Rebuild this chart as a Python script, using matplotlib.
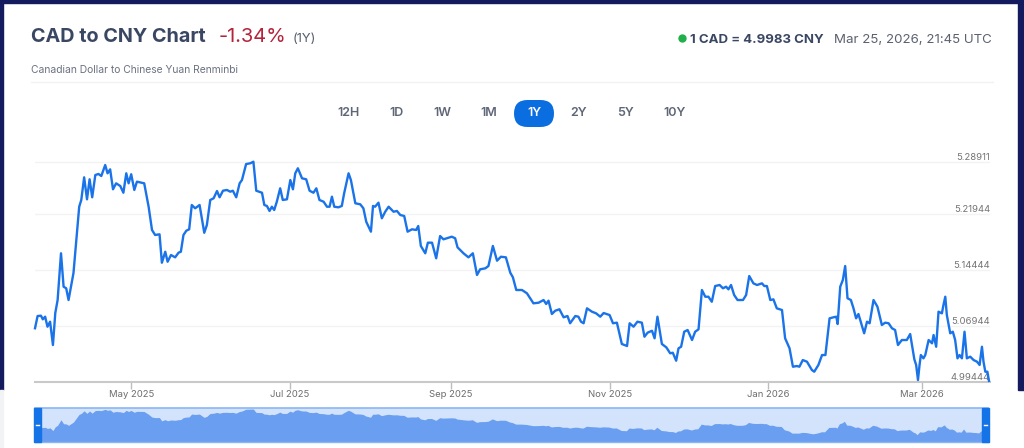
import matplotlib
matplotlib.use("Agg")
import matplotlib.pyplot as plt
import matplotlib.dates as mdates
from matplotlib.patches import Rectangle, FancyBboxPatch
from matplotlib.transforms import blended_transform_factory
import pandas as pd

# ---------------- data ----------------
start_date = "2025-03-25"
day_offsets = [
    0, 1.0, 2.3, 3.0, 3.9, 4.8, 5.8, 6.9, 7.8, 8.7, 10.0, 11.0, 12.0, 12.9, 14.8, 17.0, 17.8, 18.9, 20.0, 21.0,
    22.0, 23.2, 24.4, 25.5, 27.0, 27.9, 28.9, 30.0, 31.2, 32.8, 34.0, 35.1, 36.0, 37.0, 38.2, 39.2, 42.0, 43.7, 45.0, 46.2,
    47.9, 48.8, 50.1, 51.0, 52.3, 53.9, 55.2, 56.1, 57.1, 58.2, 59.3, 60.3, 61.6, 63.3, 65.1, 66.1, 67.4, 68.7, 70.0, 71.0,
    72.3, 73.8, 75.1, 76.1, 77.4, 78.7, 79.6, 81.2, 82.8, 84.0, 85.1, 87.3, 88.2, 89.2, 90.2, 91.1, 92.0, 93.0, 94.3, 95.3,
    96.9, 98.2, 99.2, 100.1, 101.1, 102.7, 104.3, 105.6, 107.1, 108.2, 109.4, 111.0, 112.3, 113.3, 114.2, 115.1, 116.7, 118.0, 118.9, 120.6,
    121.5, 123.2, 125.1, 126.3, 127.4, 129.2, 130.0, 130.8, 132.1, 133.4, 134.7, 136.0, 137.9, 139.2, 140.5, 142.0, 143.3, 145.0, 146.6, 147.4,
    148.4, 150.1, 151.1, 152.7, 154.3, 155.8, 157.1, 158.4, 160.3, 161.6, 162.5, 164.8, 166.7, 168.4, 170.0, 171.2, 173.2, 174.4, 176.1, 177.7,
    179.2, 181.1, 182.8, 183.8, 185.1, 187.3, 189.2, 191.7, 193.7, 195.6, 196.6, 197.5, 198.8, 200.1, 201.7, 203.3, 204.8, 205.8, 207.8, 209.0,
    210.0, 211.0, 212.3, 214.2, 215.8, 217.4, 218.7, 221.0, 222.3, 223.8, 225.7, 227.7, 228.7, 230.2, 231.7, 233.4, 234.4, 235.6, 237.3, 238.3,
    239.4, 241.1, 242.8, 244.3, 245.3, 246.6, 247.5, 248.5, 249.7, 251.0, 252.7, 253.9, 255.2, 256.5, 257.8, 259.0, 260.3, 261.6, 263.3, 264.6,
    265.8, 266.7, 267.7, 268.9, 270.2, 272.3, 273.5, 274.7, 276.3, 277.7, 279.6, 280.5, 281.5, 282.8, 284.0, 285.3, 287.3, 288.5, 290.2, 291.5,
    293.0, 294.0, 295.3, 296.9, 298.8, 299.7, 301.3, 302.7, 304.0, 305.6, 307.1, 308.2, 308.7, 309.7, 310.7, 311.6, 312.5, 313.8, 314.8, 315.8,
    316.7, 317.7, 318.9, 320.0, 321.0, 322.5, 324.0, 325.7, 327.0, 328.3, 329.6, 330.8, 331.9, 333.4, 335.3, 336.6, 338.2, 338.9, 339.6, 340.2,
    340.7, 341.7, 342.4, 343.7, 345.0, 345.6, 346.6, 347.5, 348.8, 349.4, 350.1, 350.7, 352.0, 353.0, 353.9, 354.8, 355.6, 356.5, 357.5, 358.4,
    359.7, 361.0, 362.3, 363.3, 364.2, 364.8, 365.5, 366.3, 366.9,
]
cad_cny = [
    5.0663, 5.0827, 5.0831, 5.0783, 5.0818, 5.0684, 5.0751, 5.0439, 5.0867, 5.1041, 5.1666, 5.1219, 5.1198, 5.1041, 5.1402, 5.2289, 5.2379, 5.2682, 5.2388, 5.2656,
    5.2415, 5.2713, 5.2727, 5.2700, 5.2847, 5.2736, 5.2789, 5.2522, 5.2602, 5.2566, 5.2476, 5.2736, 5.2602, 5.2723, 5.2513, 5.2624, 5.2602, 5.2289, 5.1978, 5.1911,
    5.1920, 5.1540, 5.1687, 5.1553, 5.1643, 5.1612, 5.1674, 5.1687, 5.1911, 5.1968, 5.1987, 5.2312, 5.2268, 5.2312, 5.1941, 5.2044, 5.2379, 5.2402, 5.2499, 5.2415,
    5.2503, 5.2513, 5.2490, 5.2503, 5.2415, 5.2602, 5.2646, 5.2860, 5.2870, 5.2891, 5.2503, 5.2476, 5.2312, 5.2299, 5.2232, 5.2289, 5.2245, 5.2356, 5.2535, 5.2379,
    5.2388, 5.2646, 5.2522, 5.2736, 5.2803, 5.2669, 5.2656, 5.2503, 5.2476, 5.2535, 5.2379, 5.2356, 5.2289, 5.2289, 5.2423, 5.2289, 5.2281, 5.2299, 5.2468, 5.2736,
    5.2646, 5.2335, 5.2321, 5.2268, 5.2088, 5.1955, 5.2299, 5.2289, 5.2343, 5.2134, 5.2222, 5.2289, 5.2222, 5.2232, 5.2178, 5.2165, 5.1955, 5.1987, 5.1978, 5.2031,
    5.1764, 5.1666, 5.1808, 5.1808, 5.1599, 5.1897, 5.1853, 5.1867, 5.1888, 5.1867, 5.1746, 5.1666, 5.1612, 5.1666, 5.1376, 5.1452, 5.1465, 5.1496, 5.1764, 5.1567,
    5.1620, 5.1612, 5.1406, 5.1345, 5.1175, 5.1175, 5.1131, 5.0997, 5.1005, 5.1041, 5.0988, 5.1032, 5.0854, 5.0898, 5.0917, 5.0810, 5.0827, 5.0730, 5.0827, 5.0818,
    5.0751, 5.0730, 5.0930, 5.0885, 5.0863, 5.0818, 5.0867, 5.0840, 5.0730, 5.0738, 5.0453, 5.0426, 5.0730, 5.0684, 5.0751, 5.0738, 5.0550, 5.0604, 5.0630, 5.0529,
    5.0818, 5.0453, 5.0408, 5.0328, 5.0336, 5.0229, 5.0395, 5.0416, 5.0617, 5.0640, 5.0506, 5.0617, 5.0649, 5.1175, 5.1085, 5.1085, 5.1018, 5.1228, 5.1242, 5.1198,
    5.1219, 5.1184, 5.1242, 5.1108, 5.1041, 5.1041, 5.1108, 5.1362, 5.1264, 5.1242, 5.1264, 5.1228, 5.1228, 5.1041, 5.1050, 5.0930, 5.0907, 5.0529, 5.0395, 5.0149,
    5.0158, 5.0149, 5.0238, 5.0216, 5.0105, 5.0082, 5.0172, 5.0305, 5.0305, 5.0796, 5.0810, 5.0818, 5.0720, 5.1219, 5.1309, 5.1496, 5.1064, 5.1041, 5.0930, 5.0796,
    5.0854, 5.0738, 5.0596, 5.0751, 5.0730, 5.1041, 5.0952, 5.0707, 5.0738, 5.0730, 5.0663, 5.0640, 5.0439, 5.0506, 5.0506, 5.0586, 5.0248, 5.0172, 4.9971, 5.0172,
    5.0305, 5.0261, 5.0305, 5.0506, 5.0462, 5.0573, 5.0416, 5.0885, 5.0863, 5.0974, 5.1085, 5.0840, 5.0596, 5.0617, 5.0506, 5.0261, 5.0305, 5.0261, 5.0617, 5.0261,
    5.0283, 5.0238, 5.0216, 5.0172, 5.0416, 5.0216, 5.0082, 5.0082, 4.9960,
]
y_ticks = [4.99444, 5.06944, 5.14444, 5.21944, 5.28911]
y_tick_labels = ["4.99444", "5.06944", "5.14444", "5.21944", "5.28911"]
x_tick_dates = ["2025-05-01", "2025-07-01", "2025-09-01", "2025-11-01", "2026-01-01", "2026-03-01"]
ranges = ["12H", "1D", "1W", "1M", "1Y", "2Y", "5Y", "10Y"]
active_range = "1Y"
title = "CAD to CNY Chart"
change_txt = "-1.34%"
period_txt = "(1Y)"
subtitle = "Canadian Dollar to Chinese Yuan Renminbi"
rate_txt = "1 CAD = 4.9983 CNY"
time_txt = "Mar 25, 2026, 21:45 UTC"

# ---------------- figure ----------------
W, H = 1024, 448
plt.rcParams["font.family"] = ["Inter", "DejaVu Sans"]
fig = plt.figure(figsize=(W / 100, H / 100), dpi=100)
fig.patch.set_facecolor("white")


def fx(x):
    return x / W


def fy(y):
    return 1 - y / H


def pt(px):
    return px * 72 / 100


# frame
fig.add_artist(Rectangle((0, fy(390)), fx(3), 390 / H, transform=fig.transFigure, color="#141a5e", zorder=0))
fig.add_artist(Rectangle((fx(1018), fy(390)), fx(6), 390 / H, transform=fig.transFigure, color="#141a5e", zorder=0))
fig.add_artist(Rectangle((0, fy(3)), 1, 3 / H, transform=fig.transFigure, color="#141a5e", zorder=0))
fig.add_artist(Rectangle((0, 0), fx(3), 58 / H, transform=fig.transFigure, color="#f2f3f5", zorder=0))

# header
fig.text(fx(31), fy(42), title, fontsize=pt(19.8), fontweight="bold", color="#3a4763", va="baseline")
fig.text(fx(219), fy(42), change_txt, fontsize=pt(20), color="#b3243a", va="baseline")
fig.text(fx(293), fy(42), period_txt, fontsize=pt(13), color="#555d6e", va="baseline")
fig.text(fx(31), fy(73), subtitle, fontsize=pt(10.3), color="#6b7280", va="baseline")
fig.add_artist(plt.Line2D([fx(31), fx(993)], [fy(82), fy(82)], transform=fig.transFigure, color="#f1f2f4", lw=1))

fig.add_artist(plt.Line2D([fx(682)], [fy(38)], transform=fig.transFigure, marker="o", ms=5, color="#1fb04a", lw=0))
fig.text(fx(690), fy(43), rate_txt, fontsize=pt(13.2), fontweight="bold", color="#3a4763", va="baseline")
fig.text(fx(992), fy(43), time_txt, fontsize=pt(13.3), color="#5b6170", va="baseline", ha="right")

# range buttons
btn_x = [349, 396, 442, 489, 534, 579, 625, 675]
for lab, bx in zip(ranges, btn_x):
    if lab == active_range:
        fig.add_artist(FancyBboxPatch(((bx - 20) / 100, (H - 127) / 100), 0.40, 0.27,
                                      boxstyle="round,pad=0,rounding_size=0.135",
                                      transform=fig.dpi_scale_trans, facecolor="#0a6de0", edgecolor="none"))
        fig.text(fx(bx), fy(113), lab, fontsize=pt(12.5), color="white", ha="center", va="center", fontweight="semibold")
    else:
        fig.text(fx(bx), fy(113), lab, fontsize=pt(12.5), color="#5f6677", ha="center", va="center", fontweight="semibold")

# main plot
dates = pd.Timestamp(start_date) + pd.to_timedelta(day_offsets, unit="D")
x_start = pd.Timestamp(start_date)
x_end = pd.Timestamp(start_date) + pd.Timedelta(days=367.3)
y_lo = 4.99444
y_hi = 4.99444 + 232 / 747.6

ax = fig.add_axes([fx(35), fy(382), fx(955), 232 / H])
ax.set_facecolor("none")
ax.plot(dates, cad_cny, color="#1a73e8", lw=1.7, solid_joinstyle="round", clip_on=False, zorder=3)
ax.set_xlim(x_start, x_end)
ax.set_ylim(y_lo, y_hi)
for s in ["left", "right", "top"]:
    ax.spines[s].set_visible(False)
ax.spines["bottom"].set_color("#c9c9c9")
ax.spines["bottom"].set_linewidth(1.5)
ax.set_yticks([])
for yv in y_ticks[1:]:
    ax.axhline(yv, color="#f3f3f3", lw=1, zorder=1)
trans = blended_transform_factory(ax.transAxes, ax.transData)
for yv, lab in zip(y_ticks, y_tick_labels):
    ax.text(1.0, yv, lab, transform=trans, ha="right", va="bottom", fontsize=pt(9.5), color="#747474", zorder=2)
ax.set_xticks(pd.to_datetime(x_tick_dates))
ax.xaxis.set_major_formatter(mdates.DateFormatter("%b %Y"))
ax.tick_params(axis="x", length=5, width=1, color="#bdbdbd", labelsize=pt(9.5), labelcolor="#6d6d6d", pad=1)

# navigator
nav = fig.add_axes([fx(35), fy(442), fx(953), 34 / H])
nav.set_facecolor("#d3e3fb")
nav_lo = 4.915
nav_hi = 5.30
nav.fill_between(dates, cad_cny, nav_lo, color="#6a9ef0", lw=0)
nav.set_xlim(x_start, dates[-1])
nav.set_ylim(nav_lo, nav_hi)
nav.set_xticks([])
nav.set_yticks([])
for s in nav.spines.values():
    s.set_visible(False)
fig.add_artist(plt.Line2D([fx(35), fx(988)], [fy(408), fy(408)], transform=fig.transFigure, color="#8ab6f5", lw=1.2))
fig.add_artist(plt.Line2D([fx(35), fx(988)], [fy(442), fy(442)], transform=fig.transFigure, color="#8ab6f5", lw=1))
for hx in [34, 982]:
    fig.add_artist(Rectangle((fx(hx), fy(442)), fx(7), 34 / H, transform=fig.transFigure, color="#1473e6", zorder=5))
    fig.add_artist(plt.Line2D([fx(hx + 1.8), fx(hx + 5.2)], [fy(425), fy(425)], transform=fig.transFigure,
                              color="white", lw=1, zorder=6))

fig.savefig("out.png", dpi=100, facecolor="white")
